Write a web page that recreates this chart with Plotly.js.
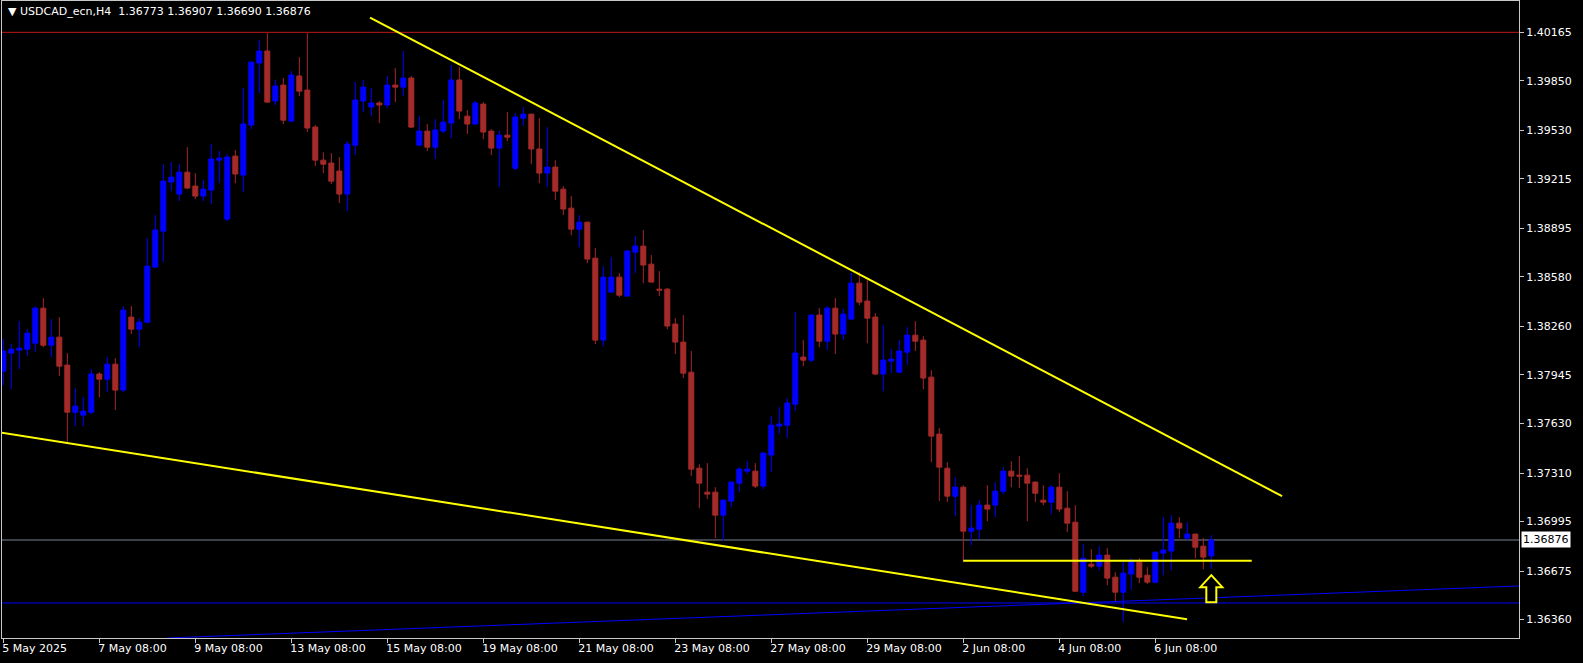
<!DOCTYPE html>
<html>
<head>
<meta charset="utf-8">
<script src="https://cdn.plot.ly/plotly-3.0.1.min.js"></script>
<style>
html,body{margin:0;padding:0;background:#000;}
#chart{width:1583px;height:663px;}
</style>
</head>
<body>
<div id="chart"></div>
<script>
// ---- data (USDCAD_ecn, H4) ----
const openP = [1.37970,1.38087,1.38106,1.38112,1.38151,1.38378,1.38138,1.38190,1.38009,1.37704,
1.37685,1.37704,1.37951,1.37918,1.38015,1.37847,1.38320,1.38242,1.38287,1.38644,
1.38877,1.39195,1.39117,1.39259,1.39169,1.39104,1.39143,1.39337,1.38955,1.39363,
1.39240,1.39564,1.39966,1.40044,1.39720,1.39823,1.39590,1.39882,1.39791,1.39551,
1.39337,1.39318,1.39266,1.39117,1.39434,1.39720,1.39681,1.39707,1.39694,1.39823,
1.39810,1.39869,1.39434,1.39525,1.39421,1.39525,1.39577,1.39856,1.39622,1.39571,
1.39700,1.39525,1.39415,1.39499,1.39285,1.39609,1.39635,1.39409,1.39253,1.39292,
1.39149,1.39026,1.38890,1.38935,1.38702,1.38171,1.38482,1.38579,1.38456,1.38741,
1.38780,1.38663,1.38501,1.38501,1.38275,1.38158,1.37963,1.37341,1.37186,1.37186,
1.37037,1.37128,1.37244,1.37322,1.37322,1.37225,1.37426,1.37614,1.37620,1.37756,
1.38061,1.38041,1.38333,1.38164,1.38378,1.38210,1.38307,1.38540,1.38424,1.38320,
1.37951,1.38035,1.37963,1.38093,1.38203,1.38171,1.37931,1.37562,1.37341,1.37160,
1.37218,1.36933,1.36946,1.37102,1.37102,1.37192,1.37322,1.37296,1.37296,1.37251,
1.37134,1.37121,1.37218,1.37082,1.36991,1.36538,1.36719,1.36706,1.36778,1.36635,
1.36538,1.36655,1.36732,1.36648,1.36603,1.36791,1.36804,1.36985,1.36888,1.36914,
1.36836,1.36773];
const highP = [1.38177,1.38145,1.38294,1.38242,1.38391,1.38443,1.38307,1.38320,1.38087,1.37860,
1.37801,1.37983,1.37963,1.38061,1.38054,1.38391,1.38391,1.38313,1.38832,1.38981,
1.39311,1.39324,1.39311,1.39421,1.39253,1.39208,1.39441,1.39396,1.39376,1.39402,
1.39804,1.39975,1.40115,1.40160,1.39856,1.39869,1.39914,1.40005,1.40160,1.39564,
1.39389,1.39383,1.39357,1.39460,1.39843,1.39856,1.39804,1.39720,1.39882,1.39933,
1.40044,1.39882,1.39622,1.39571,1.39603,1.39726,1.39953,1.39940,1.39661,1.39720,
1.39713,1.39538,1.39528,1.39648,1.39642,1.39681,1.39638,1.39609,1.39551,1.39337,
1.39169,1.39104,1.38981,1.38938,1.38767,1.38650,1.38709,1.38605,1.38754,1.38845,
1.38884,1.38722,1.38618,1.38508,1.38313,1.38333,1.38100,1.37367,1.37374,1.37218,
1.37137,1.37254,1.37348,1.37387,1.37374,1.37445,1.37678,1.37737,1.37795,1.38352,
1.38171,1.38339,1.38378,1.38391,1.38443,1.38372,1.38605,1.38611,1.38560,1.38346,
1.38268,1.38112,1.38171,1.38255,1.38294,1.38197,1.37976,1.37601,1.37380,1.37283,
1.37231,1.37102,1.37134,1.37231,1.37251,1.37348,1.37387,1.37419,1.37341,1.37257,
1.37231,1.37232,1.37309,1.37192,1.37102,1.36849,1.36817,1.36836,1.36823,1.36667,
1.36739,1.36758,1.36758,1.36700,1.36800,1.37024,1.37037,1.37024,1.36991,1.36917,
1.36888,1.36907];
const lowP = [1.37879,1.37853,1.37983,1.38067,1.38093,1.38125,1.38061,1.37938,1.37497,1.37614,
1.37614,1.37691,1.37801,1.37834,1.37717,1.37834,1.38210,1.38125,1.38281,1.38637,
1.38676,1.39136,1.39072,1.39149,1.39085,1.39072,1.39052,1.39188,1.38942,1.39188,
1.39130,1.39538,1.39771,1.39707,1.39694,1.39571,1.39583,1.39752,1.39519,1.39298,
1.39253,1.39182,1.39059,1.39007,1.39370,1.39648,1.39622,1.39577,1.39674,1.39713,
1.39752,1.39545,1.39430,1.39396,1.39344,1.39512,1.39480,1.39603,1.39506,1.39568,
1.39473,1.39370,1.39162,1.39460,1.39272,1.39558,1.39311,1.39188,1.39162,1.39078,
1.38981,1.38851,1.38773,1.38670,1.38145,1.38132,1.38479,1.38449,1.38453,1.38605,
1.38540,1.38544,1.38456,1.38242,1.38080,1.37925,1.37290,1.37082,1.37141,1.36888,
1.36868,1.37089,1.37186,1.37303,1.37212,1.37205,1.37315,1.37562,1.37536,1.37711,
1.38002,1.38028,1.38125,1.38106,1.38080,1.38171,1.38300,1.38398,1.38151,1.37944,
1.37840,1.37957,1.37960,1.38009,1.38100,1.37853,1.37380,1.37128,1.37121,1.37030,
1.36732,1.36842,1.36881,1.36998,1.37024,1.37173,1.37218,1.37212,1.36998,1.37121,
1.37102,1.37043,1.37056,1.36927,1.36538,1.36512,1.36693,1.36680,1.36583,1.36480,
1.36343,1.36551,1.36596,1.36590,1.36596,1.36648,1.36680,1.36888,1.36875,1.36758,
1.36687,1.36690];
const closeP = [1.38100,1.38112,1.38119,1.38216,1.38378,1.38138,1.38190,1.38002,1.37704,1.37743,
1.37711,1.37951,1.37918,1.38015,1.37847,1.38365,1.38242,1.38287,1.38650,1.38884,
1.39201,1.39227,1.39259,1.39156,1.39104,1.39149,1.39344,1.39350,1.39357,1.39247,
1.39571,1.39972,1.40044,1.39713,1.39817,1.39596,1.39888,1.39784,1.39545,1.39337,
1.39311,1.39201,1.39117,1.39441,1.39726,1.39810,1.39707,1.39694,1.39823,1.39810,
1.39869,1.39551,1.39525,1.39421,1.39532,1.39583,1.39856,1.39655,1.39571,1.39707,
1.39519,1.39415,1.39499,1.39486,1.39616,1.39635,1.39409,1.39253,1.39292,1.39136,
1.39020,1.38890,1.38935,1.38696,1.38171,1.38579,1.38579,1.38462,1.38748,1.38780,
1.38657,1.38547,1.38495,1.38262,1.38158,1.37957,1.37335,1.37244,1.37173,1.37037,
1.37134,1.37251,1.37335,1.37335,1.37225,1.37439,1.37620,1.37627,1.37763,1.38087,
1.38041,1.38333,1.38164,1.38378,1.38210,1.38339,1.38540,1.38417,1.38313,1.37951,
1.38041,1.38048,1.38100,1.38203,1.38164,1.37925,1.37549,1.37348,1.37160,1.37218,
1.36933,1.36953,1.37102,1.37076,1.37192,1.37322,1.37290,1.37290,1.37244,1.37179,
1.37121,1.37218,1.37076,1.36985,1.36544,1.36758,1.36706,1.36778,1.36629,1.36538,
1.36661,1.36739,1.36635,1.36603,1.36797,1.36811,1.36985,1.36953,1.36914,1.36829,
1.36765,1.36876];

// time-axis labels (bar index -> label)
const timeTickBars  = [0,12,24,36,48,60,72,84,96,108,120,132,144];
const timeTickLabels = ["5 May 2025","7 May 08:00","9 May 08:00","13 May 08:00","15 May 08:00",
  "19 May 08:00","21 May 08:00","23 May 08:00","27 May 08:00","29 May 08:00",
  "2 Jun 08:00","4 Jun 08:00","6 Jun 08:00"];
// price-axis labels
const priceTicks = [1.40165,1.39850,1.39530,1.39215,1.38895,1.38580,1.38260,1.37945,1.37630,1.37310,1.36995,1.36675,1.36360];

// horizontal levels
const resistanceLevel = 1.40165;   // red line
const lastPrice = 1.36876;         // grey bid line
const blueLevel = 1.36468;         // blue horizontal
// drawn trend lines: [barIndex, price]
const upperTrend   = [[45.84, 1.40261], [159.84, 1.37160]];
const lowerTrend   = [[-0.41, 1.37573], [147.96, 1.36363]];
const supportLine  = [[120, 1.36741], [156.05, 1.36741]];
const blueTrend    = [[20.5, 1.36241], [189.46, 1.36578]];
const arrowAnchor  = [151, 1.36648];
const headerText = "USDCAD_ecn,H4\u00A0\u00A01.36773 1.36907 1.36690 1.36876";

const barIdx = openP.map((_, i) => i);
const FONT = "DejaVu Sans, Verdana, sans-serif";

const candles = {
  type: 'candlestick',
  x: barIdx, open: openP, high: highP, low: lowP, close: closeP,
  increasing: {line: {color: '#0000FF', width: 1}, fillcolor: '#0000FF'},
  decreasing: {line: {color: '#A52A2A', width: 1}, fillcolor: '#A52A2A'},
  whiskerwidth: 0,
  hoverinfo: 'skip',
  showlegend: false
};

function seg(pts, color, width, layer) {
  return {type: 'line', xref: 'x', yref: 'y', x0: pts[0][0], y0: pts[0][1], x1: pts[1][0], y1: pts[1][1],
    line: {color: color, width: width}, layer: layer || 'above'};
}
function hline(y, color, layer) {
  return {type: 'line', xref: 'paper', yref: 'y', x0: 0, x1: 1, y0: y, y1: y,
    line: {color: color, width: 1}, layer: layer || 'above'};
}

const shapes = [
  hline(resistanceLevel, '#C01818'),
  hline(lastPrice, '#7A8290', 'below'),
  hline(blueLevel, '#0000FF'),
  seg(blueTrend, '#0000FF', 1),
  seg(upperTrend, '#FFFF00', 2),
  seg(lowerTrend, '#FFFF00', 2),
  seg(supportLine, '#FFFF00', 2),
  {type: 'path', xref: 'x', yref: 'y', xsizemode: 'pixel', ysizemode: 'pixel',
   xanchor: arrowAnchor[0], yanchor: arrowAnchor[1],
   path: 'M0,0 L11,-12 L5,-12 L5,-27 L-5,-27 L-5,-12 L-11,-12 Z',
   line: {color: '#FFFF00', width: 2}, fillcolor: '#000000', layer: 'above'}
];

const annotations = [
  {xref: 'paper', yref: 'paper', x: 0, y: 1, xanchor: 'left', yanchor: 'top', xshift: 4, yshift: -2,
   showarrow: false, text: '\u25BC\u00A0' + headerText,
   font: {family: FONT, size: 11, color: '#FFFFFF'}},
  {xref: 'paper', yref: 'y', x: 1, y: lastPrice, xanchor: 'left', yanchor: 'middle', xshift: 2,
   showarrow: false, text: lastPrice.toFixed(5), bgcolor: '#FFFFFF', borderpad: 1,
   font: {family: FONT, size: 11, color: '#000000'}}
];

const layout = {
  width: 1583, height: 663,
  margin: {l: 2, r: 64, t: 1, b: 25, pad: 0},
  paper_bgcolor: '#000000', plot_bgcolor: '#000000',
  showlegend: false,
  boxgap: 0.375, boxgroupgap: 0,
  xaxis: {
    range: [-0.1625, 189.46], tickmode: 'array', tickvals: timeTickBars, ticktext: timeTickLabels,
    showgrid: false, zeroline: false, showline: true, mirror: true, linecolor: '#C8C8C8', linewidth: 1,
    ticks: 'outside', ticklen: 4, tickcolor: '#C8C8C8', ticklabelposition: 'outside right',
    ticklabelshift: -2,
    tickfont: {family: FONT, size: 11, color: '#FFFFFF'},
    rangeslider: {visible: false}, fixedrange: true
  },
  yaxis: {
    side: 'right', range: [1.36241, 1.40368], tickmode: 'array', tickvals: priceTicks,
    ticktext: priceTicks.map(v => v.toFixed(5)),
    showgrid: false, zeroline: false, showline: true, mirror: true, linecolor: '#C8C8C8', linewidth: 1,
    ticks: 'outside', ticklen: 4, tickcolor: '#C8C8C8',
    tickfont: {family: FONT, size: 11, color: '#FFFFFF'}, fixedrange: true
  },
  shapes: shapes,
  annotations: annotations
};

Plotly.newPlot('chart', [candles], layout, {staticPlot: true, displayModeBar: false});
</script>
</body>
</html>
